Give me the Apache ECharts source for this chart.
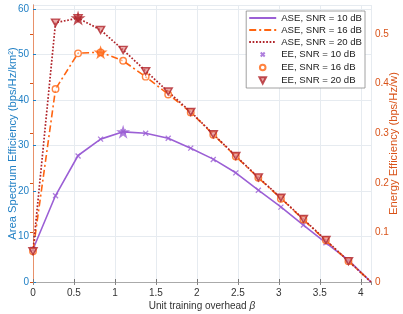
<!DOCTYPE html>
<html><head><meta charset="utf-8">
<script src="https://cdn.jsdelivr.net/npm/echarts@6/dist/echarts.min.js"></script>
<style>html,body{margin:0;padding:0;background:#fff}#c{width:403px;height:314px}</style>
</head><body><div id="c"></div>
<script>
const beta = [0, 0.275, 0.55, 0.825, 1.1, 1.375, 1.65, 1.925, 2.2, 2.475, 2.75, 3.025, 3.3, 3.575, 3.85, 4.125];
const ase10 = [7.2, 19.0, 27.8, 31.4, 33.0, 32.7, 31.6, 29.4, 27.0, 24.0, 20.2, 16.5, 12.5, 8.6, 4.8, 0];
const ase16 = [6.8, 42.4, 50.3, 50.5, 48.6, 45.1, 41.3, 37.3, 32.4, 27.6, 22.9, 18.4, 13.7, 9.1, 4.6, 0];
const ase20 = [6.8, 57.0, 58.0, 55.4, 51.0, 46.4, 41.8, 37.4, 32.5, 27.7, 23.0, 18.5, 13.8, 9.2, 4.6, 0];
const ee10 = [0.066, 0.174, 0.254, 0.288, 0.303, 0.300, 0.290, 0.270, 0.247, 0.220, 0.185, 0.151, 0.115, 0.079, 0.044];
const ee16 = [0.062, 0.389, 0.461, 0.463, 0.446, 0.414, 0.378, 0.342, 0.297, 0.253, 0.210, 0.168, 0.126, 0.084, 0.042];
const ee20 = [0.062, 0.523, 0.532, 0.508, 0.468, 0.425, 0.384, 0.343, 0.298, 0.254, 0.211, 0.170, 0.127, 0.085, 0.042];
const starX = [1.1, 0.825, 0.55];
const starY = [33.0, 50.5, 58.0];
const names = ['ASE, SNR = 10 dB','ASE, SNR = 16 dB','ASE, SNR = 20 dB','EE, SNR = 10 dB','EE, SNR = 16 dB','EE, SNR = 20 dB'];

const cPurple = '#9B5FD5', cOrange = '#FF6410', cRed = '#B0242A';
const cLeft = '#1F7FC4', cRight = '#D95319';
const FONT = 'Liberation Sans';
const STAR = 'path://M50,0L61.17,34.63L97.55,34.55L68.07,55.87L79.39,90.45L50,69L20.61,90.45L31.93,55.87L2.45,34.55L38.83,34.63Z';
const XMARK = 'path://M0,0L10,10M10,0L0,10';
const TRI = 'path://M0,0L10,0L5,9Z';
// legend icons in a 27x9 box
const LX = 'path://M0,0M27,9M11.5,2.5L15.5,6.5M15.5,2.5L11.5,6.5';
const LO = 'path://M0,0M27,9M16.3,4.5A2.8,2.8,0,1,1,10.7,4.5A2.8,2.8,0,1,1,16.3,4.5Z';
const LT = 'path://M0,0M27,9M10.2,1.3L16.8,1.3L13.5,7.6Z';

const pairs = (xs, ys) => ys.map((y, i) => [xs[i], y]);
const fmtStep = (step, dec) => v => {
  const k = v / step;
  if (Math.abs(k - Math.round(k)) > 1e-6) return '';
  return String(+(Math.round(k) * step).toFixed(dec));
};

const chart = echarts.init(document.getElementById('c'));
chart.setOption({
  animation: false,
  textStyle: { fontFamily: FONT },
  grid: { left: 33, right: 32, top: 5, bottom: 32, containLabel: false, outerBoundsMode: 'none' },
  legend: {
    data: [
      { name: names[0], itemStyle: { opacity: 0 } },
      { name: names[1], itemStyle: { opacity: 0 } },
      { name: names[2], itemStyle: { opacity: 0 } },
      { name: names[3], icon: LX },
      { name: names[4], icon: LO },
      { name: names[5], icon: LT }
    ],
    orient: 'vertical', right: 38, top: 11,
    backgroundColor: '#fff', borderColor: '#8a8a8a', borderWidth: 0.8,
    padding: [2, 3, 2, 2], itemWidth: 27, itemHeight: 9, itemGap: 2,
    textStyle: { fontFamily: FONT, fontSize: 9.6, color: '#222' }
  },
  xAxis: [{
    type: 'value', min: 0, max: 4.125, interval: 0.5,
    name: 'Unit training overhead {i|β}', nameLocation: 'middle', nameGap: 19, nameMoveOverlap: false,
    nameTextStyle: { fontFamily: FONT, fontSize: 10, color: '#333', rich: { i: { fontStyle: 'italic', fontFamily: FONT, fontSize: 10, color: '#333' } } },
    axisLine: { lineStyle: { color: '#777', width: 1 } },
    axisTick: { inside: true, length: 3, lineStyle: { color: '#777' } },
    axisLabel: { formatter: fmtStep(0.5, 1), color: '#333', fontSize: 10, margin: 6, showMaxLabel: false },
    splitLine: { show: true, lineStyle: { color: '#e6ebf0', width: 1 } }
  }, {
    type: 'value', min: 0, max: 4.125, interval: 0.5, position: 'top',
    axisLine: { show: true, lineStyle: { color: '#aaa', width: 1 } },
    axisTick: { show: true, inside: true, length: 3, lineStyle: { color: '#888' } },
    axisLabel: { show: false }, splitLine: { show: false }
  }],
  yAxis: [{
    type: 'value', min: 0, max: 60.88, interval: 10,
    name: 'Area Spectrum Efficiency (bps/Hz/km²)', nameLocation: 'middle', nameGap: 15, nameRotate: 90, nameMoveOverlap: false,
    nameTextStyle: { fontFamily: FONT, fontSize: 11.2, color: cLeft },
    axisLine: { show: true, lineStyle: { color: '#6aa6d6', width: 1 } },
    axisTick: { show: true, inside: true, length: 3, lineStyle: { color: cLeft } },
    axisLabel: { formatter: fmtStep(10, 0), color: cLeft, fontSize: 10, margin: 4, showMaxLabel: false },
    splitLine: { show: true, lineStyle: { color: '#e6ebf0', width: 1 } }
  }, {
    type: 'value', min: 0, max: 0.5585, interval: 0.1, position: 'right',
    name: 'Energy Efficiency (bps/Hz/w)', nameLocation: 'middle', nameGap: 17, nameRotate: 90, nameMoveOverlap: false,
    nameTextStyle: { fontFamily: FONT, fontSize: 11.2, color: cRight },
    axisLine: { show: true, lineStyle: { color: '#E8916A', width: 1 } },
    axisTick: { show: true, inside: true, length: 3, lineStyle: { color: cRight } },
    axisLabel: { formatter: fmtStep(0.1, 1), color: cRight, fontSize: 10, margin: 4, showMaxLabel: false },
    splitLine: { show: false }
  }],
  series: [
    { name: names[0], type: 'line', data: pairs(beta, ase10), symbol: 'none', color: cPurple,
      lineStyle: { color: cPurple, width: 1.6, type: 'solid' }, z: 3 },
    { name: names[1], type: 'line', data: pairs(beta, ase16), symbol: 'none', color: cOrange,
      lineStyle: { color: cOrange, width: 1.6, type: [7, 3, 2, 3] }, z: 3 },
    { name: names[2], type: 'line', data: pairs(beta, ase20), symbol: 'none', color: cRed,
      lineStyle: { color: cRed, width: 1.7, type: [1.7, 1.7] }, z: 4 },
    { name: names[3], type: 'scatter', yAxisIndex: 1, data: pairs(beta, ee10), symbol: XMARK, symbolSize: 5,
      itemStyle: { color: 'rgba(0,0,0,0)', borderColor: cPurple, borderWidth: 1.3 }, z: 5 },
    { name: names[4], type: 'scatter', yAxisIndex: 1, data: pairs(beta, ee16), symbol: 'circle', symbolSize: 6.5,
      itemStyle: { color: 'rgba(255,255,255,0.6)', borderColor: cOrange, borderWidth: 1.4 }, z: 5 },
    { name: names[5], type: 'scatter', yAxisIndex: 1, data: pairs(beta, ee20), symbol: TRI, symbolSize: [8, 7],
      itemStyle: { color: 'rgba(220,120,120,0.75)', borderColor: cRed, borderWidth: 1.5 }, z: 6 },
    { type: 'scatter', data: [[starX[0], starY[0]]], symbol: STAR, symbolSize: 14, itemStyle: { color: cPurple }, z: 7 },
    { type: 'scatter', data: [[starX[1], starY[1]]], symbol: STAR, symbolSize: 14, itemStyle: { color: cOrange }, z: 7 },
    { type: 'scatter', data: [[starX[2], starY[2]]], symbol: STAR, symbolSize: 15, itemStyle: { color: cRed }, z: 7 }
  ]
});
</script></body></html>
